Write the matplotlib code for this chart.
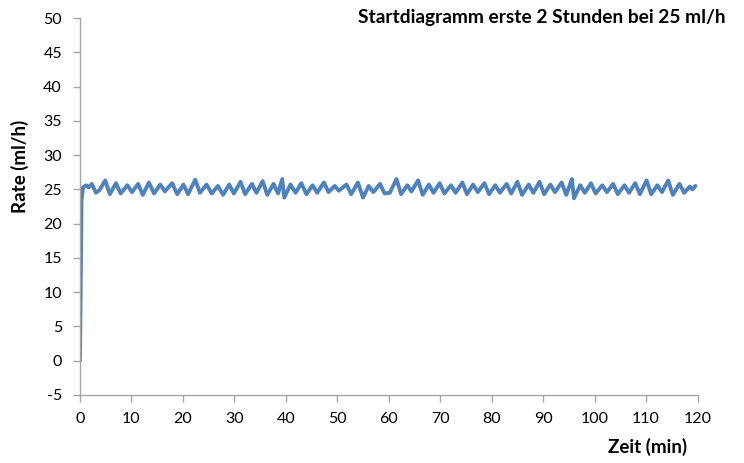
import matplotlib.pyplot as plt

# Startphase: Förderrate über die ersten 120 Minuten
zeit_min = [0.0, 0.3, 0.6, 1.2, 1.7, 2.3, 3.1, 3.8, 4.9, 5.8, 7.0, 7.9, 9.2, 10.1,
            11.3, 12.2, 13.4, 14.4, 15.6, 16.5, 17.9, 18.9, 20.1, 21.0, 22.4, 23.3,
            24.6, 25.6, 26.8, 27.8, 29.0, 29.9, 31.2, 32.1, 33.4, 34.3, 35.5, 36.4,
            37.6, 38.5, 39.3, 39.7, 40.9, 41.9, 43.0, 44.0, 45.2, 46.1, 47.4, 48.3,
            49.5, 50.3, 51.8, 52.7, 54.0, 55.0, 56.1, 57.0, 58.3, 59.2, 60.2, 61.5,
            62.4, 63.6, 64.4, 65.7, 66.6, 67.8, 68.7, 69.9, 70.8, 72.1, 73.0, 74.3,
            75.2, 76.4, 77.3, 78.6, 79.5, 80.7, 81.6, 82.9, 83.8, 85.0, 85.9, 87.2,
            88.1, 89.3, 90.2, 91.4, 92.3, 93.6, 94.5, 95.6, 96.0, 97.2, 98.1, 99.3,
            100.2, 101.5, 102.4, 103.6, 104.5, 105.8, 106.7, 107.9, 108.8, 110.1,
            111.0, 112.2, 113.1, 114.3, 115.2, 116.5, 117.4, 118.5, 119.0, 119.6]
rate_mlh = [0.0, 23.5, 25.3, 25.6, 25.3, 25.8, 24.5, 24.9, 26.3, 24.3, 25.9, 24.4, 25.6, 24.6,
            25.8, 24.2, 26.0, 24.4, 25.7, 24.7, 25.9, 24.3, 25.7, 24.3, 26.4, 24.5,
            25.7, 24.4, 25.5, 24.2, 25.7, 24.4, 26.1, 24.3, 25.8, 24.5, 26.2, 24.2,
            25.8, 24.4, 26.5, 23.8, 25.7, 24.5, 25.9, 24.3, 25.6, 24.5, 26.0, 24.6,
            25.5, 24.8, 25.7, 24.3, 26.0, 23.8, 25.5, 24.6, 25.8, 24.4, 24.5, 26.5,
            24.3, 25.6, 24.7, 26.3, 24.2, 25.7, 24.5, 25.9, 24.4, 25.6, 24.5, 26.0,
            24.3, 25.7, 24.6, 25.9, 24.3, 25.6, 24.5, 25.8, 24.4, 26.1, 24.2, 25.7,
            24.5, 26.1, 24.3, 25.7, 24.6, 26.0, 24.2, 26.5, 23.7, 25.6, 24.5, 25.9,
            24.4, 25.6, 24.6, 25.8, 24.3, 25.6, 24.5, 25.9, 24.3, 26.3,
            24.3, 25.6, 24.6, 26.3, 24.2, 25.8, 24.5, 25.4, 25.0, 25.5]

x_ticks = list(range(0, 121, 10))
y_ticks = list(range(-5, 51, 5))

plt.rcParams['font.family'] = ['Lato', 'DejaVu Sans']
plt.rcParams['axes.unicode_minus'] = False

fig = plt.figure(figsize=(7.44, 4.63), dpi=100)
ax = fig.add_axes([0.1075, 0.147, 0.83, 0.814])

ax.plot(zeit_min, rate_mlh, color='#4F81BD', linewidth=2.8,
        solid_joinstyle='round', solid_capstyle='round')

ax.set_xlim(0, 120)
ax.set_ylim(-5, 50)
ax.set_xticks(x_ticks)
ax.set_yticks(y_ticks)

for side in ['top', 'right']:
    ax.spines[side].set_visible(False)
for side in ['left', 'bottom']:
    ax.spines[side].set_color('#a6a6a6')
    ax.spines[side].set_linewidth(1.0)
ax.tick_params(axis='both', colors='#a6a6a6', labelcolor='black',
               labelsize=11.5, length=5, width=1.0, direction='out')
ax.tick_params(axis='y', pad=8)
ax.tick_params(axis='x', pad=7)

ax.set_ylabel('Rate (ml/h)', fontsize=13.5, fontweight='bold')
ax.yaxis.set_label_coords(-0.082, 0.607)
ax.set_xlabel('Zeit (min)', fontsize=13.5, fontweight='bold')
ax.xaxis.set_label_coords(0.984, -0.115)
ax.xaxis.label.set_horizontalalignment('right')

fig.text(0.975, 0.962, 'Startdiagramm erste 2 Stunden bei 25 ml/h',
         ha='right', va='center', fontsize=13.8, fontweight='bold')

fig.savefig('out.png', dpi=100)
